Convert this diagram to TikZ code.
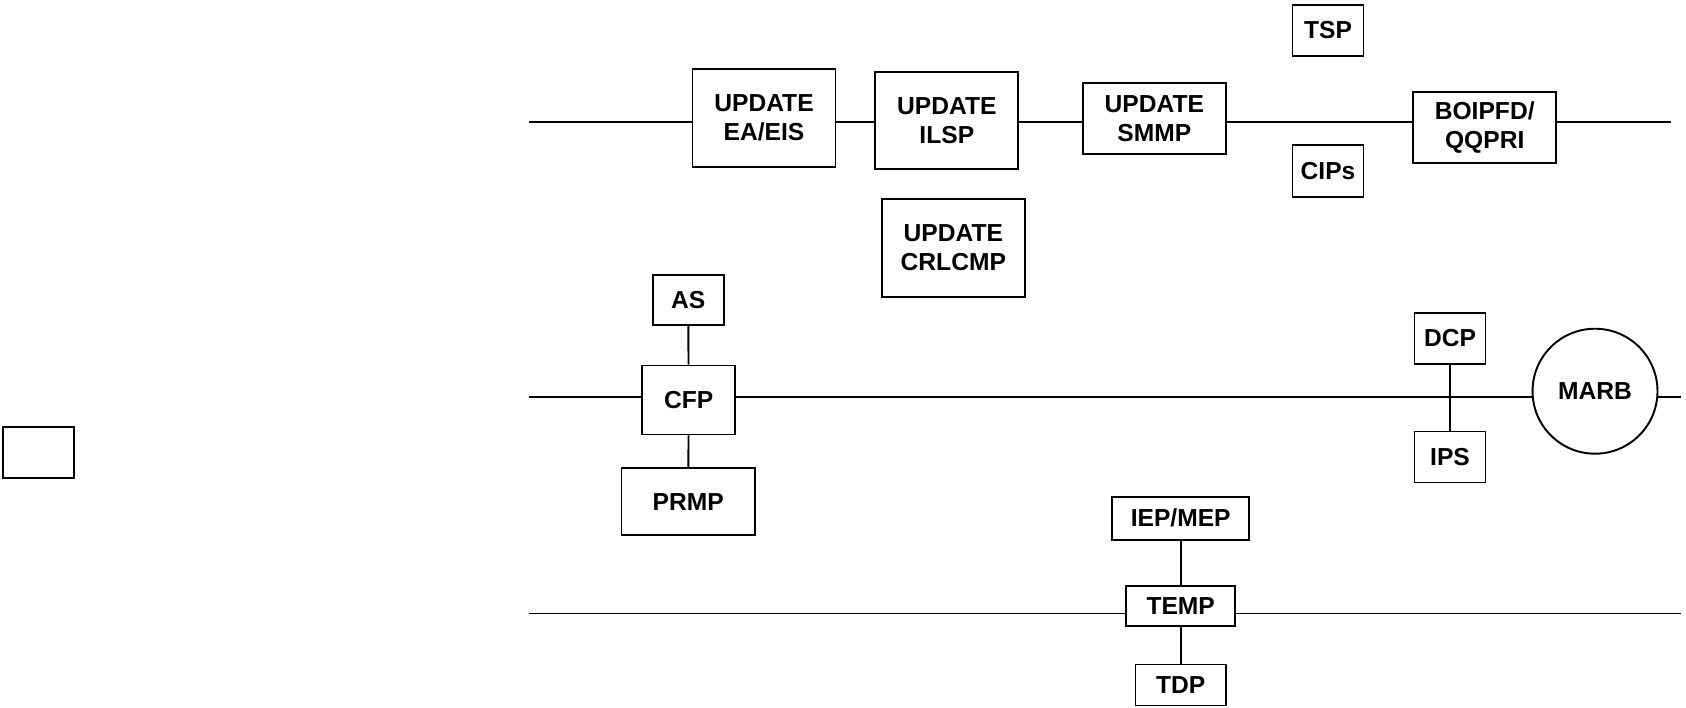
\documentclass[tikz,border=0pt]{standalone}
\usepackage{fontspec}
\setmainfont{Liberation Sans}
\usepackage{tikz}
\usetikzlibrary{positioning,calc}

\begin{document}
\begin{tikzpicture}[x=0.02cm,y=-0.02cm,line width=1.1pt,
 box/.style={draw,inner sep=0pt,align=center,font=\fontsize{14}{16.5}\selectfont\bfseries},
 wbox/.style={box,minimum width=2.86cm,minimum height=1.96cm},
 fbox/.style={box,minimum width=2.86cm,minimum height=1.42cm},
 sbox/.style={box,minimum width=1.42cm,minimum height=1.02cm},
 hub/.style={draw,circle,inner sep=0pt,minimum size=2.5cm,font=\fontsize{14}{16.5}\selectfont\bfseries}]
\useasboundingbox (0,0) rectangle (1686,707);

% top row
\node[wbox] (ea) at (764,117.7) {UPDATE\\EA/EIS};
\node[wbox,minimum height=1.94cm] (ilsp) at (946.8,120.4) {UPDATE\\ILSP};
\node[fbox] (smmp) at (1154.3,118.5) {UPDATE\\SMMP};
\node[sbox,minimum height=1.03cm] (tsp) at (1328,30.3) {TSP};
\node[sbox,minimum height=1.03cm] (cips) at (1328,171) {CIPs};
\node[fbox] (boi) at (1484.7,127.7) {BOIPFD/\\QQPRI};
\node[wbox] (crl) at (953.3,248) {UPDATE\\CRLCMP};
\coordinate (t0) at (529,121.6);
\coordinate (t1) at (1671,121.6);
\draw (t0)--(t0-|ea.west) (ea.east|-t0)--(t0-|ilsp.west)
 (ilsp.east|-t0)--(t0-|smmp.west) (smmp.east|-t0)--(t0-|boi.west)
 (boi.east|-t0)--(t1);

% middle row
\node[sbox,minimum height=0.99cm] (as) at (688.2,300) {AS};
\node[box,minimum width=1.87cm,minimum height=1.38cm] (cfp) at (688.7,400) {CFP};
\node[box,minimum width=2.67cm,minimum height=1.35cm] (prmp) at (688.2,501.6) {PRMP};
\node[sbox] (dcp) at (1450,338.2) {DCP};
\node[sbox] (ips) at (1450,457) {IPS};
\node[hub] (marb) at (1595,391.2) {MARB};
\node[sbox,minimum height=1.03cm] (blank) at (38.7,452.7) {};
\coordinate (m0) at (529,397);
\coordinate (m1) at (1681,397);
\draw (m0)--(m0-|cfp.west) (cfp.east|-m0)--(m0-|marb.west) (m0-|marb.east)--(m1);
\draw (as)--(cfp); \draw (cfp)--(prmp); \draw (dcp)--(ips);

% bottom row
\node[box,minimum width=2.75cm,minimum height=0.86cm] (iep) at (1180.7,518.3) {IEP/MEP};
\node[box,minimum width=2.19cm,minimum height=0.8cm] (temp) at (1180.7,606) {TEMP};
\node[box,minimum width=1.81cm,minimum height=0.82cm] (tdp) at (1180.7,685) {TDP};
\coordinate (b0) at (529,613.5);
\coordinate (b1) at (1681,613.5);
\draw (b0)--(b0-|temp.west) (temp.east|-b0)--(b1);
\draw (iep)--(temp); \draw (temp)--(tdp);
\end{tikzpicture}
\end{document}
